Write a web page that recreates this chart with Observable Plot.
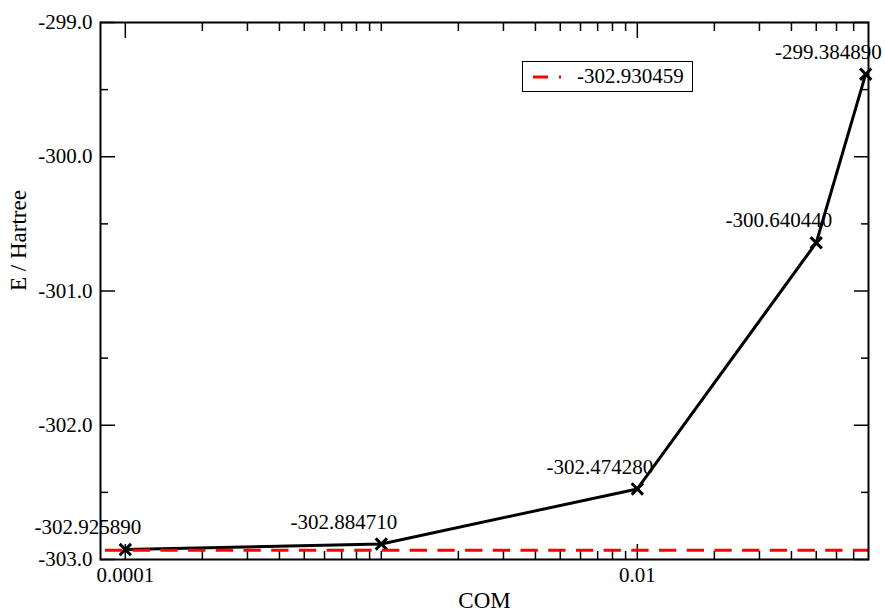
<!DOCTYPE html>
<html>
<head>
<meta charset="utf-8">
<script src="https://cdn.jsdelivr.net/npm/d3@7"></script>
<script src="https://cdn.jsdelivr.net/npm/@observablehq/plot@0.6"></script>
<style>
  html, body { margin: 0; padding: 0; background: #fff; }
  #wrap { position: relative; width: 885px; height: 612px; font-family: 'Liberation Serif', serif; }
  #wrap svg text { font-family: 'Liberation Serif', serif; }
  #legend { position: absolute; left: 522px; top: 61px; width: 169px; height: 29px; border: 1.3px solid #000; background: #fff; display: flex; align-items: center; box-sizing: content-box; }
  #legend svg { margin-left: 8px; }
  #legend span { font-family: 'Liberation Serif', serif; font-size: 21px; margin-left: 14px; color: #000; line-height: 1; }
</style>
</head>
<body>
<div id="wrap"></div>
<script>
// ---- data ----
const com = [0.0001, 0.001, 0.01, 0.05, 0.078];
const energy = [-302.925890, -302.884710, -302.474280, -300.640440, -299.384890];
const referenceEnergy = -302.930459;
const referenceLabel = "-302.930459";
const xMajorTicks = [0.0001, 0.01];
const xMajorLabels = ["0.0001", "0.01"];
const xMinorTicks = [
  0.0002, 0.0003, 0.0004, 0.0005, 0.0006, 0.0007, 0.0008, 0.0009, 0.001,
  0.002, 0.003, 0.004, 0.005, 0.006, 0.007, 0.008, 0.009,
  0.02, 0.03, 0.04, 0.05, 0.06, 0.07
];
const yMajorTicks = [-303, -302, -301, -300, -299];
const yMinorTicks = [-302.5, -301.5, -300.5, -299.5];
const xTitle = "COM";
const yTitle = "E / Hartree";

const points = com.map((c, i) => ({x: c, y: energy[i]}));
const serif = "'Liberation Serif', serif";
const fs = 21;

const chart = Plot.plot({
  width: 885,
  height: 612,
  marginLeft: 100,
  marginRight: 17,
  marginTop: 22,
  marginBottom: 53,
  style: {fontFamily: serif, fontSize: fs + "px", background: "#fff", color: "#000"},
  x: {type: "log", domain: [8e-5, 0.08]},
  y: {domain: [-303, -299]},
  marks: [
    // ticks (inward)
    Plot.axisX(xMajorTicks, {anchor: "bottom", tickSize: -15, text: null, label: null, strokeWidth: 1.5}),
    Plot.axisX(xMajorTicks, {anchor: "top", tickSize: -15, text: null, label: null, strokeWidth: 1.5}),
    Plot.axisX(xMinorTicks, {anchor: "bottom", tickSize: -8, text: null, label: null, strokeWidth: 1.5}),
    Plot.axisX(xMinorTicks, {anchor: "top", tickSize: -8, text: null, label: null, strokeWidth: 1.5}),
    Plot.axisY(yMajorTicks, {anchor: "left", tickSize: -15, text: null, label: null, strokeWidth: 1.5}),
    Plot.axisY(yMajorTicks, {anchor: "right", tickSize: -15, text: null, label: null, strokeWidth: 1.5}),
    Plot.axisY(yMinorTicks, {anchor: "left", tickSize: -8, text: null, label: null, strokeWidth: 1.5}),
    Plot.axisY(yMinorTicks, {anchor: "right", tickSize: -8, text: null, label: null, strokeWidth: 1.5}),
    // tick labels
    Plot.axisX(xMajorTicks, {anchor: "bottom", tickSize: 0, tickPadding: 8, label: null,
      tickFormat: d => xMajorLabels[xMajorTicks.indexOf(d)], fontSize: fs, fontFamily: serif, fill: "#000"}),
    Plot.axisY(yMajorTicks, {anchor: "left", tickSize: 0, tickPadding: 8, label: null,
      tickFormat: d => d.toFixed(1), fontSize: fs, fontFamily: serif, fill: "#000"}),
    // axis titles
    Plot.text([xTitle], {frameAnchor: "bottom", dy: 41, text: d => d, fontSize: 23, fontFamily: serif, fill: "#000", lineAnchor: "middle"}),
    Plot.text([yTitle], {frameAnchor: "left", dx: -82, rotate: -90, text: d => d, fontSize: 23, fontFamily: serif, fill: "#000", lineAnchor: "middle"}),
    // data
    Plot.line(points, {x: "x", y: "y", stroke: "#000", strokeWidth: 3}),
    Plot.dot(points, {x: "x", y: "y", symbol: "times", r: 5.2, stroke: "#000", strokeWidth: 3}),
    Plot.ruleY([referenceEnergy], {stroke: "#ff0000", strokeWidth: 3, strokeDasharray: "17.3,10.4", strokeDashoffset: -5}),
    Plot.text(points, {x: "x", y: "y", text: d => d.y.toFixed(6), textAnchor: "end", dx: 16, dy: -22,
      fontSize: fs, fontFamily: serif, fill: "#000", lineAnchor: "middle"}),
    Plot.frame({stroke: "#000", strokeWidth: 2})
  ]
});

const wrap = document.getElementById("wrap");
wrap.appendChild(chart);

const legend = document.createElement("div");
legend.id = "legend";
legend.innerHTML = `<svg width="32" height="6"><line x1="2" y1="3" x2="30" y2="3" stroke="#ff0000" stroke-width="3" stroke-dasharray="15,11,3,20"/></svg><span></span>`;
legend.querySelector("span").textContent = referenceLabel;
wrap.appendChild(legend);
</script>
</body>
</html>
